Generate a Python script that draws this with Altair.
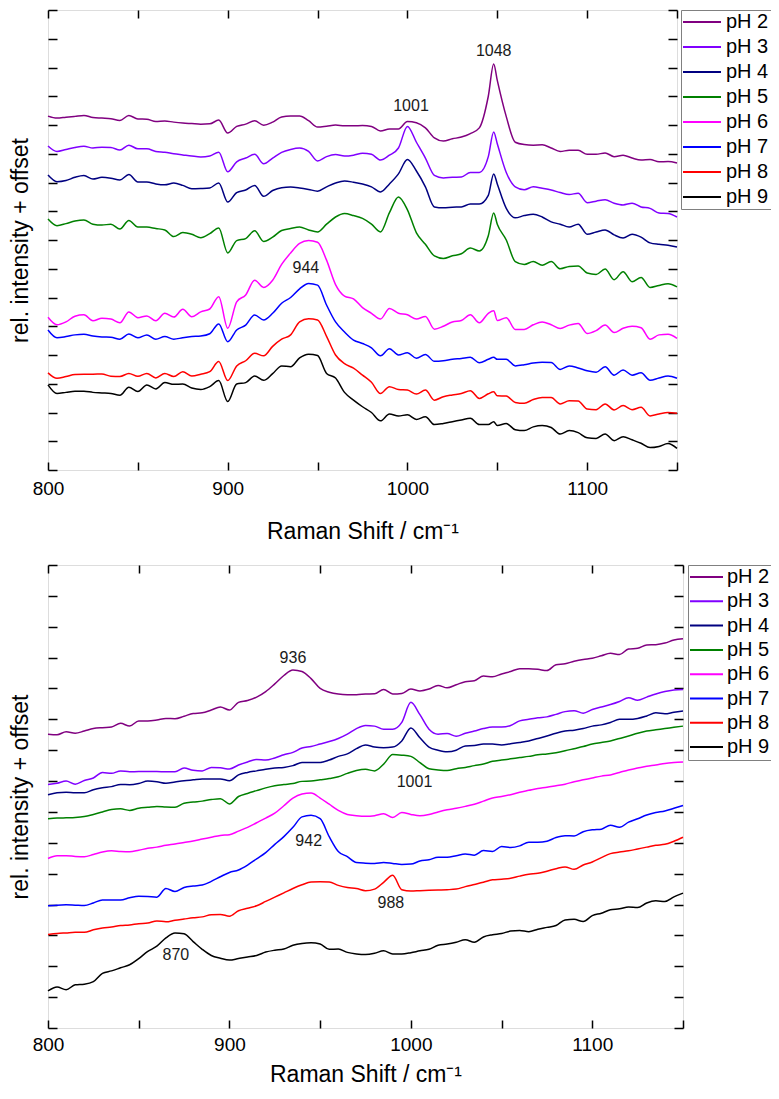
import altair as alt
import pandas as pd

FONT = "Liberation Sans"

LABELS = ["pH 2", "pH 3", "pH 4", "pH 5", "pH 6", "pH 7", "pH 8", "pH 9"]
COLORS = ["#800080", "#8000FF", "#000080", "#008000", "#FF00FF", "#0000FF", "#FF0000", "#000000"]
X_TICKS = [800, 850, 900, 950, 1000, 1050, 1100, 1150]

# Raman shift sampling (cm-1)
TOP_X = list(range(800, 1046, 5)) + [1048] + list(range(1050, 1151, 5))
BOT_X = list(range(800, 1151, 5))

# ---------------- upper panel (intensity + offset) ----------------
top_ph2 = [12.31, 12.24, 12.27, 12.30, 12.33, 12.26, 12.24, 12.22, 12.16, 12.33,
           12.21, 12.20, 12.12, 12.14, 12.10, 12.07, 12.05, 12.03, 12.04, 12.17,
           11.72, 11.95, 12.03, 12.15, 11.99, 12.10, 12.28, 12.31, 12.31, 12.15,
           11.93, 11.96, 12.00, 11.97, 11.97, 11.98, 11.95, 11.79, 11.86, 11.86,
           12.12, 12.08, 11.90, 11.55, 11.44, 11.52, 11.58, 11.70, 11.90, 13.00,
           14.12,
           13.55, 12.29, 11.40, 11.32, 11.30, 11.31, 11.20, 11.08, 11.12, 11.12,
           10.98, 10.98, 11.03, 10.90, 10.95, 10.85, 10.78, 10.80, 10.72, 10.73, 10.68]
top_ph3 = [11.27, 11.08, 11.15, 11.22, 11.26, 11.20, 11.23, 11.22, 11.13, 11.30,
           11.17, 11.17, 11.08, 11.05, 11.00, 10.96, 10.92, 10.89, 10.92, 11.05,
           10.37, 10.72, 10.85, 10.98, 10.65, 10.85, 11.05, 11.15, 11.20, 11.08,
           10.75, 10.90, 10.97, 10.92, 10.95, 11.02, 10.98, 10.78, 10.95, 11.20,
           11.95, 11.40, 10.85, 10.25, 10.16, 10.18, 10.19, 10.35, 10.35, 10.90,
           11.76,
           11.35, 10.35, 9.85, 9.75, 9.85, 9.80, 9.74, 9.65, 9.58, 9.63,
           9.30, 9.35, 9.40, 9.28, 9.22, 9.28, 9.15, 9.10, 8.94, 8.92, 8.80]
top_ph4 = [10.26, 10.03, 10.07, 10.18, 10.24, 10.12, 10.18, 10.15, 10.09, 10.28,
           10.02, 10.02, 9.95, 9.92, 9.98, 9.90, 9.78, 9.79, 9.81, 9.98,
           9.32, 9.65, 9.74, 9.90, 9.52, 9.72, 9.82, 9.84, 9.81, 9.76,
           9.70, 9.85, 9.98, 10.05, 10.01, 9.95, 9.85, 9.67, 9.95, 10.30,
           10.80, 10.40, 9.85, 9.15, 9.12, 9.14, 9.15, 9.25, 9.25, 9.55,
           10.30,
           9.95, 9.10, 8.77, 8.85, 8.90, 8.80, 8.63, 8.55, 8.45, 8.55,
           8.20, 8.28, 8.35, 8.18, 8.07, 8.20, 8.10, 7.90, 7.85, 7.82, 7.76]
top_ph5 = [8.73, 8.50, 8.57, 8.66, 8.70, 8.55, 8.52, 8.55, 8.38, 8.68,
           8.45, 8.45, 8.40, 8.35, 8.12, 8.26, 8.20, 8.08, 8.22, 8.42,
           7.55, 7.98, 8.05, 8.32, 7.95, 8.10, 8.33, 8.40, 8.45, 8.35,
           8.28, 8.55, 8.80, 8.92, 8.85, 8.75, 8.55, 8.28, 8.95, 9.50,
           9.05, 8.25, 7.85, 7.45, 7.36, 7.45, 7.52, 7.72, 7.62, 8.15,
           8.94,
           8.55, 8.00, 7.25, 7.15, 7.25, 7.12, 7.25, 7.00, 7.08, 7.10,
           6.85, 6.80, 6.99, 6.62, 6.90, 6.55, 6.70, 6.35, 6.42, 6.48, 6.37]
top_ph6 = [5.31, 5.05, 5.15, 5.35, 5.40, 5.19, 5.28, 5.25, 5.12, 5.50,
           5.30, 5.36, 5.19, 5.45, 5.32, 5.59, 5.33, 5.50, 5.60, 6.03,
           4.93, 5.85, 6.09, 6.60, 6.35, 6.60, 7.15, 7.55, 7.88, 7.98,
           7.92, 7.30, 6.45, 6.05, 5.95, 5.65, 5.45, 5.25, 5.62, 5.45,
           5.40, 5.25, 5.34, 4.90, 5.00, 5.15, 5.20, 5.40, 5.12, 5.45,
           5.54,
           5.20, 5.30, 4.89, 4.89, 5.05, 5.15, 5.05, 4.92, 5.04, 5.10,
           4.75, 4.85, 5.04, 4.78, 4.93, 5.00, 4.95, 4.55, 4.70, 4.72, 4.58]
top_ph7 = [4.87, 4.60, 4.64, 4.70, 4.72, 4.66, 4.63, 4.62, 4.55, 4.73,
           4.60, 4.70, 4.55, 4.64, 4.55, 4.60, 4.64, 4.66, 4.74, 5.08,
           4.46, 4.87, 5.04, 5.39, 5.22, 5.45, 5.80, 6.00, 6.30, 6.49,
           6.43, 5.74, 5.15, 4.80, 4.52, 4.40, 4.25, 3.97, 4.22, 4.00,
           4.08, 3.89, 4.02, 3.78, 3.80, 3.85, 3.88, 3.92, 3.73, 3.85,
           3.92,
           3.85, 3.85, 3.62, 3.66, 3.72, 3.75, 3.74, 3.50, 3.62, 3.55,
           3.45, 3.40, 3.59, 3.30, 3.48, 3.30, 3.38, 3.12, 3.20, 3.27, 3.19]
top_ph8 = [3.38, 3.19, 3.25, 3.32, 3.33, 3.33, 3.34, 3.26, 3.25, 3.36,
           3.26, 3.36, 3.20, 3.36, 3.25, 3.42, 3.27, 3.33, 3.42, 3.77,
           3.11, 3.62, 3.80, 4.06, 3.97, 4.30, 4.55, 4.70, 5.15, 5.26,
           5.22, 4.65, 4.00, 3.70, 3.54, 3.30, 3.05, 2.66, 2.90, 2.80,
           2.78, 2.64, 2.78, 2.43, 2.55, 2.61, 2.66, 2.76, 2.49, 2.65,
           2.72,
           2.58, 2.57, 2.35, 2.32, 2.45, 2.52, 2.52, 2.30, 2.41, 2.40,
           2.12, 2.10, 2.30, 2.09, 2.24, 2.10, 2.18, 1.88, 1.95, 2.00, 1.97]
top_ph9 = [2.96, 2.66, 2.70, 2.74, 2.74, 2.70, 2.68, 2.66, 2.60, 2.88,
           2.73, 2.96, 2.82, 3.04, 2.98, 2.99, 2.85, 2.80, 2.90, 3.11,
           2.38, 2.99, 3.04, 3.27, 3.12, 3.35, 3.62, 3.59, 3.90, 4.03,
           3.98, 3.36, 3.20, 2.70, 2.43, 2.20, 2.00, 1.71, 1.95, 1.88,
           1.92, 1.76, 1.85, 1.58, 1.62, 1.68, 1.74, 1.80, 1.58, 1.58,
           1.68,
           1.55, 1.62, 1.40, 1.37, 1.50, 1.55, 1.48, 1.25, 1.37, 1.30,
           1.12, 1.10, 1.25, 1.02, 1.16, 1.05, 0.93, 0.78, 0.82, 0.92, 0.75]

# ---------------- lower panel (intensity + offset) ----------------
bot_ph2 = [9.52, 9.50, 9.60, 9.55, 9.62, 9.70, 9.73, 9.75, 9.87, 9.78,
           9.95, 9.95, 9.98, 10.03, 10.02, 10.10, 10.19, 10.21, 10.30, 10.40,
           10.30, 10.55, 10.61, 10.72, 10.90, 11.15, 11.42, 11.60, 11.55, 11.32,
           11.00, 10.88, 10.82, 10.80, 10.80, 10.82, 10.83, 10.97, 10.82, 10.84,
           10.98, 10.92, 10.98, 11.10, 11.02, 11.12, 11.22, 11.25, 11.40, 11.38,
           11.47, 11.55, 11.64, 11.64, 11.62, 11.58, 11.77, 11.80, 11.88, 11.94,
           11.98, 12.06, 12.14, 12.10, 12.28, 12.30, 12.41, 12.42, 12.47, 12.57, 12.61]
bot_ph3 = [7.89, 7.93, 8.00, 7.90, 8.02, 8.10, 8.28, 8.25, 8.33, 8.30,
           8.31, 8.31, 8.31, 8.30, 8.30, 8.42, 8.35, 8.33, 8.44, 8.43,
           8.39, 8.52, 8.62, 8.70, 8.68, 8.75, 8.85, 8.93, 9.07, 9.12,
           9.20, 9.28, 9.38, 9.52, 9.70, 9.80, 9.78, 9.68, 9.68, 9.90,
           10.55, 10.15, 9.68, 9.52, 9.54, 9.45, 9.55, 9.62, 9.70, 9.75,
           9.75, 9.80, 9.95, 10.00, 10.05, 10.08, 10.16, 10.25, 10.28, 10.20,
           10.32, 10.40, 10.48, 10.58, 10.70, 10.62, 10.72, 10.82, 10.90, 10.95, 10.97]
bot_ph4 = [7.56, 7.62, 7.64, 7.62, 7.62, 7.72, 7.78, 7.82, 7.89, 7.88,
           7.92, 8.00, 7.98, 7.93, 7.97, 8.01, 8.04, 8.07, 8.07, 8.07,
           8.01, 8.20, 8.28, 8.33, 8.38, 8.42, 8.44, 8.50, 8.60, 8.60,
           8.60, 8.68, 8.80, 8.88, 9.05, 9.17, 9.10, 9.08, 9.10, 9.30,
           9.72, 9.40, 9.10, 9.00, 8.95, 9.00, 9.14, 9.15, 9.20, 9.20,
           9.17, 9.21, 9.25, 9.30, 9.38, 9.46, 9.55, 9.62, 9.65, 9.70,
           9.78, 9.82, 9.90, 10.00, 10.00, 10.03, 10.11, 10.21, 10.18, 10.23, 10.27]
bot_ph5 = [6.78, 6.80, 6.81, 6.82, 6.85, 6.92, 7.00, 7.08, 7.10, 7.05,
           7.12, 7.15, 7.18, 7.16, 7.15, 7.28, 7.32, 7.35, 7.40, 7.43,
           7.26, 7.50, 7.60, 7.69, 7.78, 7.85, 7.89, 7.92, 7.99, 8.00,
           8.04, 8.08, 8.14, 8.25, 8.34, 8.38, 8.33, 8.55, 8.86, 8.84,
           8.80, 8.60, 8.40, 8.36, 8.34, 8.40, 8.44, 8.50, 8.55, 8.64,
           8.68, 8.72, 8.76, 8.80, 8.85, 8.88, 8.92, 8.98, 9.05, 9.12,
           9.20, 9.25, 9.30, 9.38, 9.46, 9.55, 9.62, 9.66, 9.70, 9.74, 9.78]
bot_ph6 = [5.49, 5.58, 5.58, 5.56, 5.55, 5.62, 5.70, 5.74, 5.72, 5.71,
           5.76, 5.82, 5.86, 5.92, 5.96, 6.01, 6.06, 6.12, 6.18, 6.24,
           6.26, 6.38, 6.50, 6.65, 6.80, 6.96, 7.20, 7.45, 7.58, 7.61,
           7.45, 7.25, 7.05, 6.92, 6.88, 6.86, 6.88, 6.94, 6.82, 6.98,
           6.92, 6.88, 6.92, 7.00, 7.07, 7.12, 7.18, 7.25, 7.35, 7.45,
           7.50, 7.56, 7.64, 7.70, 7.76, 7.80, 7.85, 7.90, 7.98, 8.04,
           8.10, 8.16, 8.20, 8.28, 8.36, 8.42, 8.48, 8.52, 8.57, 8.60, 8.62]
bot_ph7 = [3.96, 3.98, 3.99, 3.98, 3.97, 4.05, 4.15, 4.15, 4.15, 4.22,
           4.27, 4.26, 4.24, 4.52, 4.42, 4.55, 4.60, 4.63, 4.75, 4.90,
           5.04, 5.12, 5.28, 5.48, 5.68, 5.95, 6.20, 6.50, 6.84, 6.89,
           6.78, 6.20, 5.72, 5.55, 5.36, 5.34, 5.33, 5.36, 5.33, 5.30,
           5.31, 5.41, 5.45, 5.53, 5.53, 5.58, 5.64, 5.60, 5.75, 5.72,
           5.88, 5.85, 5.90, 6.02, 6.02, 6.05, 6.17, 6.23, 6.22, 6.36,
           6.42, 6.44, 6.57, 6.50, 6.67, 6.78, 6.90, 6.98, 7.03, 7.12, 7.21]
bot_ph8 = [3.03, 3.06, 3.08, 3.10, 3.10, 3.18, 3.24, 3.27, 3.32, 3.34,
           3.38, 3.40, 3.47, 3.44, 3.49, 3.53, 3.57, 3.60, 3.67, 3.68,
           3.62, 3.80, 3.88, 3.96, 4.10, 4.24, 4.38, 4.52, 4.64, 4.73,
           4.74, 4.73, 4.62, 4.55, 4.52, 4.45, 4.50, 4.72, 4.95, 4.48,
           4.44, 4.45, 4.46, 4.47, 4.48, 4.50, 4.58, 4.65, 4.72, 4.80,
           4.82, 4.85, 4.92, 4.98, 5.01, 5.08, 5.16, 5.22, 5.14, 5.28,
           5.38, 5.52, 5.65, 5.70, 5.74, 5.80, 5.86, 5.92, 5.95, 6.05, 6.18]
bot_ph9 = [1.20, 1.33, 1.24, 1.40, 1.42, 1.50, 1.77, 1.85, 1.95, 2.05,
           2.25, 2.48, 2.65, 2.92, 3.08, 3.05, 2.80, 2.55, 2.35, 2.26,
           2.20, 2.25, 2.30, 2.35, 2.46, 2.52, 2.56, 2.68, 2.74, 2.76,
           2.72, 2.55, 2.56, 2.45, 2.40, 2.38, 2.42, 2.50, 2.40, 2.40,
           2.44, 2.50, 2.55, 2.68, 2.72, 2.78, 2.86, 2.78, 2.95, 3.02,
           3.06, 3.14, 3.16, 3.12, 3.20, 3.26, 3.32, 3.50, 3.52, 3.45,
           3.64, 3.72, 3.83, 3.86, 3.92, 3.90, 4.05, 4.12, 4.10, 4.25, 4.37]

# peak annotations
TOP_ANN_LABEL = ["1001", "1048", "944"]
TOP_ANN_X = [1002, 1048, 943.5]
TOP_ANN_Y = [12.66, 14.58, 7.02]
BOT_ANN_LABEL = ["936", "1001", "942", "988", "870"]
BOT_ANN_X = [935, 1002, 943.7, 989, 870.5]
BOT_ANN_Y = [11.98, 7.96, 6.06, 4.05, 2.38]

TOP_SERIES = [top_ph2, top_ph3, top_ph4, top_ph5, top_ph6, top_ph7, top_ph8, top_ph9]
BOT_SERIES = [bot_ph2, bot_ph3, bot_ph4, bot_ph5, bot_ph6, bot_ph7, bot_ph8, bot_ph9]


def long_table(xs, series):
    rows = []
    for lab, vals in zip(LABELS, series):
        assert len(vals) == len(xs), (lab, len(vals), len(xs))
        for x, v in zip(xs, vals):
            rows.append({"shift": x, "val": v, "ph": lab})
    return pd.DataFrame(rows)


def ann_table(labels, xs, ys):
    return pd.DataFrame({"shift": xs, "val": ys, "txt": labels})


def panel(df, ann, width, height, ymax, ytitle_pad, lab_pad, xtitle_pad,
          sym_path, lab_off, row_pad, leg_off):
    xscale = alt.Scale(domain=[800, 1150], nice=False, zero=False)
    yscale = alt.Scale(domain=[0, ymax], nice=False, zero=False)
    xaxis = alt.Axis(
        values=X_TICKS, format="d",
        labelExpr="datum.value % 100 === 0 ? datum.label : ''",
        grid=True, gridDash=[8, height - 16, 8, height], gridColor="black",
        gridWidth=1.5, gridOpacity=1,
        ticks=False, tickSize=0, domain=False,
        labelFontSize=19, labelPadding=lab_pad, labelFlush=False, labelOverlap=False,
        labelColor="black", labelFont=FONT,
        title="Raman Shift / cm\u207b\u00b9", titleFontSize=23, titleFontWeight="normal",
        titlePadding=xtitle_pad, titleColor="black", titleFont=FONT,
    )
    yaxis = alt.Axis(
        values=list(range(0, ymax + 1)),
        grid=True, gridDash=[9, width - 18, 9, width], gridColor="black",
        gridWidth=1.5, gridOpacity=1,
        labels=False, ticks=False, tickSize=0, domain=False,
        title="rel. intensity + offset", titleFontSize=23, titleFontWeight="normal",
        titlePadding=ytitle_pad, titleColor="black", titleFont=FONT,
    )
    legend = alt.Legend(
        title=None, orient="right", offset=leg_off, padding=2,
        strokeColor="#808080", fillColor="white", cornerRadius=0,
        labelFontSize=20, labelFont=FONT, labelColor="black", labelLimit=300,
        symbolType=sym_path, symbolSize=100, symbolStrokeWidth=2,
        labelOffset=lab_off, rowPadding=row_pad,
    )
    lines = alt.Chart(df).mark_line(strokeWidth=1.5, interpolate="monotone").encode(
        x=alt.X("shift:Q", scale=xscale, axis=xaxis),
        y=alt.Y("val:Q", scale=yscale, axis=yaxis),
        color=alt.Color("ph:N", sort=LABELS,
                        scale=alt.Scale(domain=LABELS, range=COLORS), legend=legend),
    )
    text = alt.Chart(ann).mark_text(fontSize=16, font=FONT, color="#1a1a1a").encode(
        x=alt.X("shift:Q", scale=xscale, axis=xaxis),
        y=alt.Y("val:Q", scale=yscale, axis=yaxis),
        text="txt:N",
    )
    return alt.layer(lines, text).properties(width=width, height=height)


top = panel(long_table(TOP_X, TOP_SERIES), ann_table(TOP_ANN_LABEL, TOP_ANN_X, TOP_ANN_Y),
            629, 460, 16, 16, 9.5, 22, "M-2,0H5.6", 23, 5, 1)
bottom = panel(long_table(BOT_X, BOT_SERIES), ann_table(BOT_ANN_LABEL, BOT_ANN_X, BOT_ANN_Y),
               635, 463, 15, 16, 7, 9, "M-2,0H4.6", 17, 4.3, 2)

chart = alt.vconcat(top, bottom, spacing=20).resolve_scale(color="independent").properties(
    autosize=alt.AutoSizeParams(type="none"),
    padding={"left": 40, "top": 2, "right": 723, "bottom": 1081},
).configure_view(stroke="black", strokeWidth=1.5).configure(font=FONT, background="white")

chart.save("out.html", embed_options={"renderer": "svg", "actions": False})
